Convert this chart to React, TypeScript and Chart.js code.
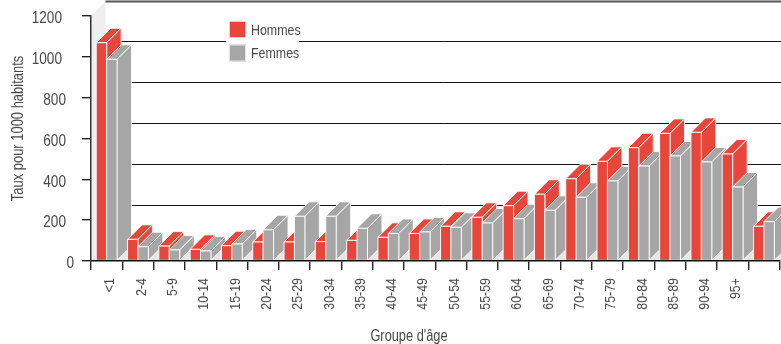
import React, { useEffect, useRef } from "react";
import { Chart, registerables } from "chart.js";

Chart.register(...registerables);

const ageGroups = ["<1", "2-4", "5-9", "10-14", "15-19", "20-24", "25-29", "30-34", "35-39", "40-44", "45-49", "50-54", "55-59", "60-64", "65-69", "70-74", "75-79", "80-84", "85-89", "90-94", "95+", ""];
const hommes = [1069, 106, 73, 57, 75, 93, 93, 95, 101, 116, 135, 170, 214, 271, 327, 403, 488, 555, 625, 630, 524, 170];
const femmes = [988, 70, 54, 49, 83, 153, 219, 219, 160, 135, 142, 165, 186, 207, 248, 312, 392, 465, 514, 485, 362, 193];
const yTicks = [0, 200, 400, 600, 800, 1000, 1200];

const RED = "#E8463A";
const GREY = "#A6A6A6";
const INK = "#484848";
const FONT = '"Liberation Sans", sans-serif';
const NARROW = 0.8;
const DEPTH = 14.5;

// Horizontally condensed text, drawn along the current direction.
function condensed(
  ctx: CanvasRenderingContext2D,
  text: string,
  x: number,
  y: number,
  size: number,
  align: CanvasTextAlign,
  angle = 0,
) {
  ctx.save();
  ctx.translate(x, y);
  ctx.rotate(angle);
  ctx.scale(NARROW, 1);
  ctx.font = `${size}px ${FONT}`;
  ctx.textAlign = align;
  ctx.textBaseline = "middle";
  ctx.fillText(text, 0, 0);
  ctx.restore();
}

// Front, side and top faces of one extruded bar.
function drawBox(ctx: CanvasRenderingContext2D, left: number, right: number, top: number, base: number, fill: string) {
  const d = DEPTH;
  ctx.fillStyle = fill;
  ctx.strokeStyle = "rgba(255,255,255,0.9)";
  ctx.lineWidth = 1;
  const faces: number[][][] = [
    [[left, top], [left + d, top - d], [right + d, top - d], [right, top]],
    [[right, top], [right + d, top - d], [right + d, base - d], [right, base]],
    [[left, top], [right, top], [right, base], [left, base]],
  ];
  for (const face of faces) {
    ctx.beginPath();
    face.forEach(([x, y], i) => (i ? ctx.lineTo(x, y) : ctx.moveTo(x, y)));
    ctx.closePath();
    ctx.fill();
    ctx.stroke();
  }
}

const box3d = {
  id: "box3d",
  // The bars are painted here, left to right, so each box overlaps the one behind it.
  beforeDatasetsDraw(chart: any) {
    const { ctx, chartArea: area, scales } = chart;
    const y = scales.y;
    const base = y.getPixelForValue(0);
    const top = y.getPixelForValue(1200);
    const d = DEPTH;

    ctx.save();
    // Side wall and floor of the plot box
    ctx.fillStyle = "#EFEFEF";
    ctx.beginPath();
    ctx.moveTo(area.left, top);
    ctx.lineTo(area.left + d, top - d);
    ctx.lineTo(area.left + d, base - d);
    ctx.lineTo(area.left, base);
    ctx.closePath();
    ctx.fill();
    ctx.fillStyle = "#E6E6E6";
    ctx.beginPath();
    ctx.moveTo(area.left, base);
    ctx.lineTo(area.left + d, base - d);
    ctx.lineTo(chart.width, base - d);
    ctx.lineTo(chart.width, base);
    ctx.closePath();
    ctx.fill();

    // Grid lines sit on the back wall
    for (const v of yTicks) {
      if (v === 0) continue;
      const py = Math.floor(y.getPixelForValue(v) - d - 0.5) + 0.5;
      ctx.strokeStyle = v === 1200 ? "#555555" : "#111111";
      ctx.lineWidth = v === 1200 ? 2 : 1;
      ctx.beginPath();
      ctx.moveTo(area.left + d, py);
      ctx.lineTo(chart.width, py);
      ctx.stroke();
    }

    const red = chart.getDatasetMeta(0).data;
    const grey = chart.getDatasetMeta(1).data;
    ageGroups.forEach((_, i) => {
      for (const [bar, fill] of [[red[i], RED], [grey[i], GREY]] as [any, string][]) {
        const half = bar.width / 2;
        drawBox(ctx, bar.x - half, bar.x + half, bar.y, bar.base, fill);
      }
    });
    ctx.restore();
    return false;
  },
  afterDraw(chart: any) {
    const { ctx, scales } = chart;
    const y = scales.y;
    const x = scales.x;
    ctx.save();
    ctx.fillStyle = INK;

    // Value labels: the narrower numbers sit closer to the axis
    for (const v of yTicks) {
      const s = String(v);
      const right = s.length === 4 ? 62 : s.length === 3 ? 66 : 74;
      condensed(ctx, s, right, y.getPixelForValue(v) + 2.5, 17, "right");
    }

    // Age group labels read upwards, hanging below the tick marks
    ageGroups.forEach((label, i) => {
      condensed(ctx, label, x.getPixelForTick(i) + 3.5, 278, 15.5, "right", -Math.PI / 2);
    });

    // Axis titles
    condensed(ctx, "Groupe d'âge", 409, 337, 16, "center");
    condensed(ctx, "Taux pour 1000 habitants", 18.5, 128.5, 16.2, "center", -Math.PI / 2);

    // Legend panel, cut out of the grid
    ctx.fillStyle = "#FFFFFF";
    ctx.fillRect(226, 18, 73, 46);
    chart.data.datasets.forEach((ds: any, i: number) => {
      const top = 21 + i * 23.5;
      ctx.fillStyle = ds.backgroundColor;
      ctx.fillRect(229, top, 17, 17);
      ctx.strokeStyle = "rgba(255,255,255,0.7)";
      ctx.strokeRect(229.5, top + 0.5, 16, 16);
      ctx.fillStyle = INK;
      condensed(ctx, ds.label, 251, top + 9.5, 15.5, "left");
    });
    ctx.restore();
  },
};

export default function App() {
  const ref = useRef<HTMLCanvasElement>(null);

  useEffect(() => {
    const chart = new Chart(ref.current!, {
      type: "bar",
      data: {
        labels: ageGroups,
        datasets: [
          { label: "Hommes", data: hommes, backgroundColor: RED },
          { label: "Femmes", data: femmes, backgroundColor: GREY },
        ],
      },
      plugins: [box3d],
      options: {
        animation: false,
        responsive: false,
        layout: { padding: { top: 16, right: 1.4, left: 0, bottom: 0 } },
        plugins: { legend: { display: false }, tooltip: { enabled: false } },
        datasets: { bar: { categoryPercentage: 0.665, barPercentage: 1 } },
        scales: {
          x: {
            afterFit: (s: any) => { s.height = 83; },
            grid: { drawOnChartArea: false, tickLength: 9, tickColor: "#222222", lineWidth: 1.4 },
            border: { color: "#111111", width: 1.5, z: 1 },
            ticks: { display: false, autoSkip: false },
          },
          y: {
            min: 0,
            max: 1200,
            afterFit: (s: any) => { s.width = 91; },
            grid: { drawOnChartArea: false, tickLength: 9, tickColor: "#222222", lineWidth: 1.4 },
            border: { color: "#333333", width: 1.5, z: 1 },
            ticks: { display: false, stepSize: 200 },
          },
        },
      },
    } as any);
    return () => chart.destroy();
  }, []);

  return (
    <canvas
      ref={ref}
      width={781}
      height={344}
      style={{ position: "absolute", left: 0, top: 0, display: "block" }}
    />
  );
}
